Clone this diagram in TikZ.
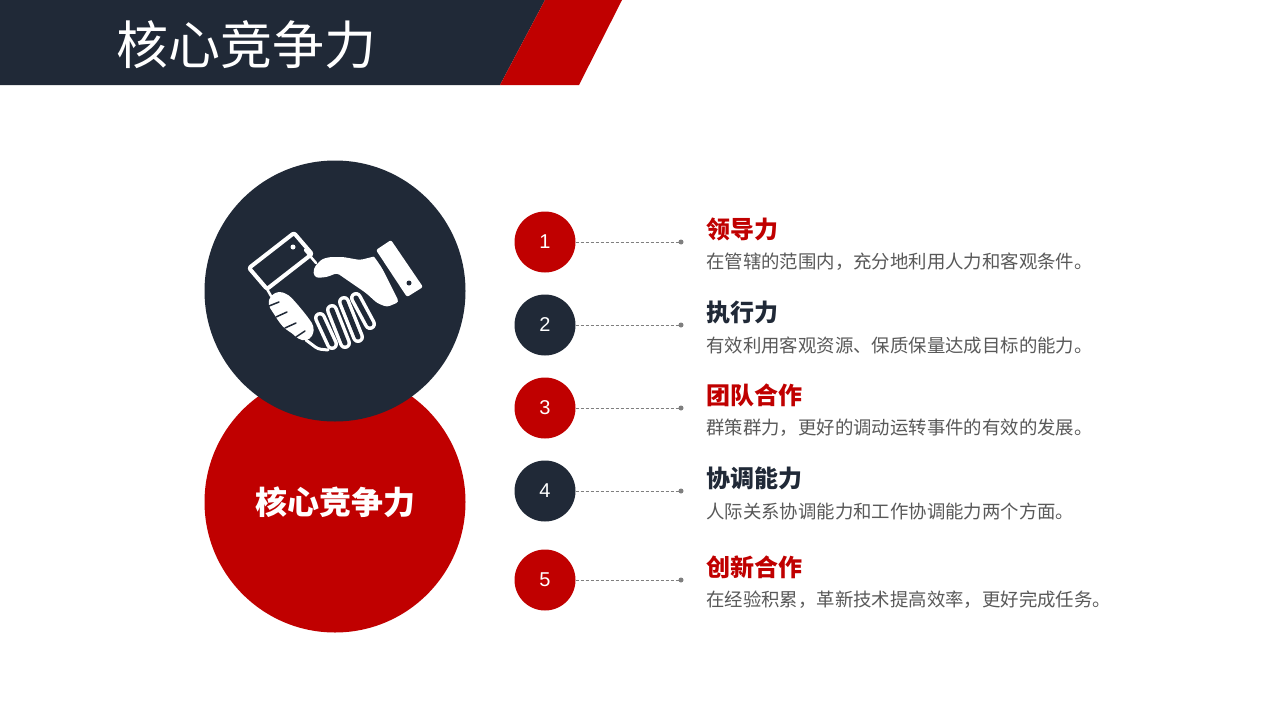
\documentclass[tikz,border=0pt]{standalone}
\usepackage{fontspec}
\setmainfont{Liberation Sans}
\newfontfamily\cjk{Noto Sans CJK SC}
\definecolor{navy}{RGB}{32,41,55}
\definecolor{cred}{RGB}{192,0,0}
\definecolor{dgray}{RGB}{89,89,89}
\definecolor{lgray}{RGB}{127,127,127}
\tikzset{
  big/.style={circle, minimum size=261pt, inner sep=0pt},
  num/.style={circle, minimum size=61pt, inner sep=0pt, text=white, font=\fontsize{20}{24}\selectfont},
  ttl/.style={anchor=west, inner sep=0pt, font=\cjk\bfseries\fontsize{24}{28}\selectfont},
  desc/.style={anchor=west, inner sep=0pt, text=dgray, font=\cjk\fontsize{18.4}{22}\selectfont},
  conn/.style={lgray, dash pattern=on 3pt off 2pt, line width=0.9pt},
  enddot/.style={circle, fill=lgray, minimum size=5pt, inner sep=0pt},
  iconline/.style={white, line width=4pt, line join=round, line cap=round},
}
\begin{document}
\begin{tikzpicture}[x=1pt,y=-1pt]
\useasboundingbox (0,0) rectangle (1280,720);
\fill[white] (0,0) rectangle (1280,720);
% header
\fill[navy] (0,0) -- (545,0) -- (500,85) -- (0,85) -- cycle;
\fill[cred] (545,0) -- (622,0) -- (579,85) -- (500,85) -- cycle;
\node[anchor=west, inner sep=0pt, text=white, font=\cjk\fontsize{52}{60}\selectfont] (head) at (116,45) {核心竞争力};
% big circles
\node[big, fill=cred, text=white, font=\cjk\bfseries\fontsize{32}{36}\selectfont] (core) at (335,502) {核心竞争力};
\node[big, fill=navy] (icon) at (335,291) {};
% handshake icon
\begin{scope}
  % left cuff
  \draw[iconline, rounded corners=2pt] (249,268) -- (294,233) -- (312,254) -- (267,289) -- cycle;
  \fill[white] (293,247) circle (2.5);
  % left wrist
  \draw[white, line width=2.5pt, line cap=round] (267,289) -- (271,296);
  \draw[white, line width=2.5pt, line cap=round] (305,250) -- (316,263);
  % fingers
  \foreach \tx/\ty/\bx/\by in {320/318/332/344, 332/310/345/343, 344/302/358/337, 356/298/370/324}{
    \draw[white, line width=12pt, line cap=round] (\tx,\ty) -- (\bx,\by);
    \draw[navy, line width=5pt, line cap=round] (\tx,\ty) -- (\bx,\by);
  }
  % left knuckles
  \fill[white, rounded corners=4pt] (270,296) -- (279,291) -- (289,295) -- (298,305) -- (307,316) -- (314,326) -- (313,336) -- (306,341) -- (298,339) -- (292,333) -- (285,329) -- (279,322) -- (274,314) -- (268,305) -- cycle;
  \draw[navy, line width=1.5pt, line cap=round] (269,306) -- (279,302);
  \draw[navy, line width=1.5pt, line cap=round] (276,317) -- (287,312);
  \draw[navy, line width=1.5pt, line cap=round] (285,328) -- (296,323);
  \draw[navy, line width=1.5pt, line cap=round] (296,337) -- (305,331);
  \draw[white, line width=3pt, line cap=round, rounded corners=3pt] (306,340) -- (318,349) -- (328,350);
  % palm
  \fill[white, rounded corners=3pt] (376,256) -- (360,260) -- (343,257) -- (330,257) -- (322,259) -- (315,266) -- (313,273) -- (316,278) -- (327,277) -- (337,273) -- (350,282) -- (366,293) -- (377,303) -- (387,307) -- (399,302) -- cycle;
  % right cuff
  \fill[white, rounded corners=2pt] (376,250) -- (391,240) -- (423,287) -- (407,297) -- cycle;
  \draw[navy, line width=2.5pt] (373,253) .. controls (386,270) and (394,285) .. (401,301);
  \fill[navy] (409,283) circle (2.5);
\end{scope}
% list
\foreach \i/\col/\y/\t/\d in {
  1/cred/242/领导力/在管辖的范围内，充分地利用人力和客观条件。,
  2/navy/325/执行力/有效利用客观资源、保质保量达成目标的能力。,
  3/cred/408/团队合作/群策群力，更好的调动运转事件的有效的发展。,
  4/navy/491/协调能力/人际关系协调能力和工作协调能力两个方面。,
  5/cred/580/创新合作/在经验积累，革新技术提高效率，更好完成任务。}{
  \node[num, fill=\col] (n\i) at (545,\y) {\i};
  \node[enddot] (d\i) at (681,\y) {};
  \draw[conn] (n\i.east) -- (d\i.center);
  \node[ttl, text=\col] (t\i) at (706,\y-13) {\t};
  \node[desc] (s\i) at (706,\y+20) {\d};
}
\end{tikzpicture}
\end{document}
